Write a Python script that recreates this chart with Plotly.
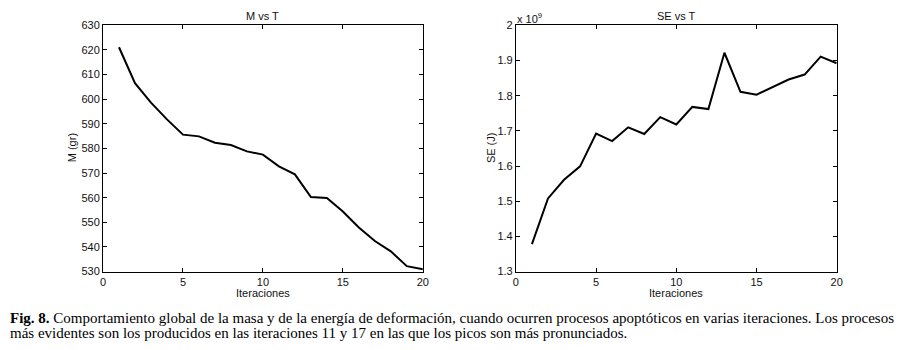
import plotly.graph_objects as go

iterations = list(range(1, 21))
mass_gr = [621.1, 606.5, 598.6, 591.8, 585.6, 584.9, 582.3, 581.4, 578.8, 577.5,
           572.7, 569.5, 560.3, 559.9, 554.4, 547.9, 542.4, 538.2, 532.2, 530.9]
strain_energy_e9 = [1.378, 1.508, 1.561, 1.599, 1.692, 1.671, 1.710, 1.691, 1.739, 1.718,
                    1.768, 1.762, 1.922, 1.811, 1.803, 1.824, 1.846, 1.860, 1.911, 1.892]

x_ticks = [0, 5, 10, 15, 20]
m_ticks = list(range(530, 631, 10))
se_ticks = [1.3, 1.4, 1.5, 1.6, 1.7, 1.8, 1.9, 2.0]
se_tick_labels = ["1.3", "1.4", "1.5", "1.6", "1.7", "1.8", "1.9", "2"]

W, H = 915, 350
tick_font = dict(family="Liberation Sans, Arial", size=11, color="#111")

fig = go.Figure()
fig.add_trace(go.Scatter(x=iterations, y=mass_gr, mode="lines",
                         line=dict(color="black", width=2), xaxis="x", yaxis="y",
                         showlegend=False))
fig.add_trace(go.Scatter(x=iterations, y=strain_energy_e9, mode="lines",
                         line=dict(color="black", width=2), xaxis="x2", yaxis="y2",
                         showlegend=False))

axis_common = dict(showgrid=False, zeroline=False, showline=True, linecolor="black",
                   linewidth=1, mirror="ticks", ticks="inside", ticklen=4,
                   tickcolor="black", tickfont=tick_font)

y_dom = [1 - 275 / H, 1 - 20 / H]
fig.update_layout(
    width=W, height=H,
    margin=dict(l=0, r=0, t=0, b=0, pad=0),
    paper_bgcolor="white", plot_bgcolor="white",
    xaxis=dict(domain=[101 / W, 424 / W], range=[0, 20], tickvals=x_ticks, anchor="y", **axis_common),
    yaxis=dict(domain=y_dom, range=[530, 630], tickvals=m_ticks, anchor="x", **axis_common),
    xaxis2=dict(domain=[518 / W, 842 / W], range=[0, 20], tickvals=x_ticks, anchor="y2", **axis_common),
    yaxis2=dict(domain=y_dom, range=[1.3, 2.0], tickvals=se_ticks, ticktext=se_tick_labels,
                anchor="x2", **axis_common),
)

lab_font = dict(family="Liberation Sans, Arial", size=11, color="#111")
ann = []
ann.append(dict(text="M vs T", x=262.5, y=10))
ann.append(dict(text="SE vs T", x=680, y=10))
ann.append(dict(text="Iteraciones", x=262.5, y=297))
ann.append(dict(text="Iteraciones", x=680, y=297))
annotations = []
for a in ann:
    annotations.append(dict(text=a["text"], x=a["x"] / W, y=1 - a["y"] / H, xref="paper", yref="paper",
                            showarrow=False, font=lab_font, xanchor="center", yanchor="middle"))
annotations.append(dict(text="M (gr)", x=70 / W, y=1 - 147 / H, xref="paper", yref="paper",
                        showarrow=False, font=lab_font, textangle=-90, xanchor="center", yanchor="middle"))
annotations.append(dict(text="SE (J)", x=493 / W, y=1 - 147 / H, xref="paper", yref="paper",
                        showarrow=False, font=lab_font, textangle=-90, xanchor="center", yanchor="middle"))
annotations.append(dict(text="x 10<sup>9</sup>", x=517 / W, y=1 - 12 / H, xref="paper", yref="paper",
                        showarrow=False, font=lab_font, xanchor="left", yanchor="middle"))

cap_font = dict(family="Liberation Serif, Times New Roman", size=15, color="black")
annotations.append(dict(text="<b>Fig. 8.</b> Comportamiento global de la masa y de la energía de deformación, cuando ocurren procesos apoptóticos en varias iteraciones. Los procesos",
                        x=5 / W, y=1 - 323 / H, xref="paper", yref="paper", showarrow=False,
                        font=cap_font, xanchor="left", yanchor="middle"))
annotations.append(dict(text="más evidentes son los producidos en las iteraciones 11 y 17 en las que los picos son más pronunciados.",
                        x=5 / W, y=1 - 339 / H, xref="paper", yref="paper", showarrow=False,
                        font=cap_font, xanchor="left", yanchor="middle"))
fig.update_layout(annotations=annotations)

fig.write_html("out.html", config={"displayModeBar": False},
               post_script="document.body.style.margin='0px';document.body.style.padding='0px';")
